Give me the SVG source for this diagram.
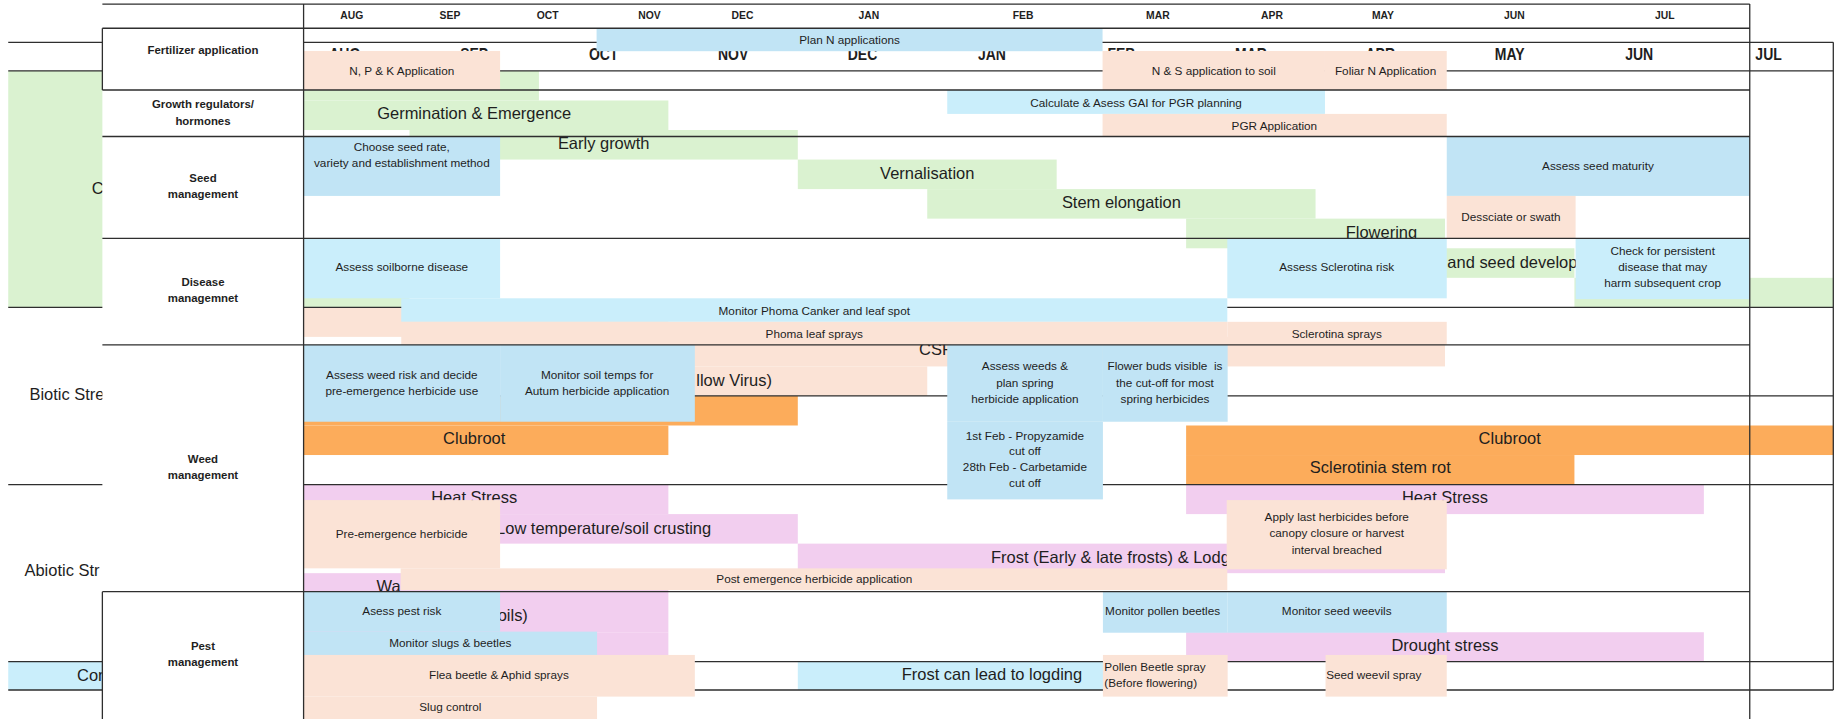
<svg xmlns="http://www.w3.org/2000/svg" width="1845" height="719" viewBox="0 0 1845 719">
<style>
text{font-family:'Liberation Sans',Arial,sans-serif;fill:#1e1e1e;dominant-baseline:central}
.s{font-size:10px;text-anchor:middle}
.sl{font-size:10px;text-anchor:start}
.b{font-size:14px;text-anchor:middle}
.bs{font-size:14px;text-anchor:start}
.be{font-size:14px;text-anchor:end}
.lab{font-size:9.7px;font-weight:bold;text-anchor:middle}
.mh{font-size:8.8px;font-weight:bold;text-anchor:middle}
.bh{font-size:14.5px;font-weight:bold;text-anchor:middle}
.pk{fill:#FBE3D6}.bl{fill:#C1E4F5}.lb{fill:#CAEEFB}.gr{fill:#DAF2D0}.or{fill:#FCAC5B}.pu{fill:#F2CEEF}.wh{fill:#fff}
.ln{stroke:#2e2e2e;stroke-width:1.1;fill:none}
</style>
<rect width="1845" height="719" fill="#fff"/>
<g transform="scale(1.1767)">
<g id="stage-table">
 <g id="bg-labels">
  <rect class="gr" x="7" y="60.3" width="231" height="200.9"/>
  <rect class="lb" x="7" y="562.3" width="231" height="24.1"/>
  <text class="bs" x="78" y="160">C</text>
  <text class="bs" x="25" y="334.9">Biotic Stre</text>
  <text class="bs" x="20.8" y="484.4">Abiotic Str</text>
  <text class="bs" x="65.5" y="573.7">Con</text>
 </g>
 <g id="bg-months" transform="scale(0.82 1)">
  <text class="bh" x="357.32" y="46">AUG</text><text class="bh" x="491.46" y="46">SEP</text><text class="bh" x="625.61" y="46">OCT</text>
  <text class="bh" x="759.76" y="46">NOV</text><text class="bh" x="893.9" y="46">DEC</text><text class="bh" x="1028.05" y="46">JAN</text>
  <text class="bh" x="1162.2" y="46">FEB</text><text class="bh" x="1296.34" y="46">MAR</text><text class="bh" x="1430.49" y="46">APR</text>
  <text class="bh" x="1564.63" y="46">MAY</text><text class="bh" x="1698.78" y="46">JUN</text><text class="bh" x="1832.93" y="46">JUL</text>
 </g>
 <g id="crop-stages">
  <rect class="gr" x="238" y="60.3" width="220" height="25.1"/>
  <rect class="gr" x="238" y="85.4" width="330" height="25.1"/>
  <rect class="gr" x="348" y="110.5" width="330" height="25.1"/>
  <rect class="gr" x="678" y="135.6" width="220" height="25.1"/>
  <rect class="gr" x="788" y="160.7" width="330" height="25.1"/>
  <rect class="gr" x="1008" y="185.8" width="220" height="25.2"/>
  <rect class="gr" x="1118" y="211" width="220" height="25.1"/>
  <rect class="gr" x="238" y="236.1" width="110" height="25.1"/>
  <rect class="gr" x="1338" y="236.1" width="220" height="25.1"/>
  <text class="b" x="403" y="96.3">Germination &amp; Emergence</text>
  <text class="b" x="513" y="121.8">Early growth</text>
  <text class="b" x="788" y="147.3">Vernalisation</text>
  <text class="b" x="953" y="171.4">Stem elongation</text>
  <text class="b" x="1174" y="196.8">Flowering</text>
  <text class="bs" x="1230" y="222.4">and seed development</text>
 </g>
 <g id="biotic">
  <rect class="pk" x="238" y="261.2" width="330" height="25.1"/>
  <rect class="pk" x="458" y="286.3" width="770" height="25.1"/>
  <rect class="pk" x="458" y="311.4" width="330" height="25.1"/>
  <rect class="or" x="238" y="336.5" width="440" height="25.1"/>
  <rect class="or" x="238" y="361.6" width="330" height="25.1"/>
  <rect class="or" x="1008" y="361.6" width="550" height="25.1"/>
  <rect class="or" x="1008" y="386.7" width="330" height="25.1"/>
  <text class="bs" x="781" y="296.7">CSF</text>
  <text class="be" x="656" y="323">llow Virus)</text>
  <text class="b" x="403" y="372.6">Clubroot</text>
  <text class="b" x="1283" y="372.6">Clubroot</text>
  <text class="b" x="1173" y="397.2">Sclerotinia stem rot</text>
 </g>
 <g id="abiotic">
  <rect class="pu" x="238" y="411.8" width="330" height="25.1"/>
  <rect class="pu" x="1008" y="411.8" width="440" height="25.1"/>
  <rect class="pu" x="348" y="436.9" width="330" height="25.1"/>
  <rect class="pu" x="678" y="462" width="550" height="25.1"/>
  <rect class="pu" x="238" y="487.1" width="330" height="50.2"/>
  <rect class="pu" x="238" y="537.3" width="330" height="25"/>
  <rect class="pu" x="1008" y="537.3" width="440" height="25"/>
  <rect class="lb" x="678" y="562.3" width="330" height="24.1"/>
  <text class="b" x="403" y="422">Heat Stress</text>
  <text class="b" x="1228" y="422">Heat Stress</text>
  <text class="b" x="513" y="449">Low temperature/soil crusting</text>
  <text class="b" x="953" y="473">Frost (Early &amp; late frosts) &amp; Lodging</text>
  <text class="bs" x="320" y="498">Wa</text>
  <text class="be" x="448.6" y="522.6">oils)</text>
  <text class="b" x="1228" y="548">Drought stress</text>
  <text class="b" x="843" y="573">Frost can lead to logding</text>
 </g>
 <path class="ln" d="M7 36H1558M7 60.3H1558M7 261.2H1558M238 336.4H1558M7 411.8H1558M7 562.3H1558M7 586.4H1558M1558 36V586.4"/>
</g>
<g id="management-table">
 <rect class="wh" x="87" y="3.5" width="171" height="609"/>
 <g id="labels">
  <text class="lab" x="172.5" y="42.5">Fertilizer application</text>
  <text class="lab" x="172.5" y="88.7">Growth regulators/</text>
  <text class="lab" x="172.5" y="102.5">hormones</text>
  <text class="lab" x="172.5" y="151.6">Seed</text>
  <text class="lab" x="172.5" y="164.9">management</text>
  <text class="lab" x="172.5" y="239.4">Disease</text>
  <text class="lab" x="172.5" y="253.6">managemnet</text>
  <text class="lab" x="172.5" y="390.4">Weed</text>
  <text class="lab" x="172.5" y="403.7">management</text>
  <text class="lab" x="172.5" y="549">Pest</text>
  <text class="lab" x="172.5" y="562.9">management</text>
 </g>
 <g id="months">
  <text class="mh" x="299" y="13">AUG</text><text class="mh" x="382.4" y="13">SEP</text><text class="mh" x="465.4" y="13">OCT</text>
  <text class="mh" x="552" y="13">NOV</text><text class="mh" x="631" y="13">DEC</text><text class="mh" x="738.4" y="13">JAN</text>
  <text class="mh" x="869.4" y="13">FEB</text><text class="mh" x="984" y="13">MAR</text><text class="mh" x="1081" y="13">APR</text>
  <text class="mh" x="1175.3" y="13">MAY</text><text class="mh" x="1287" y="13">JUN</text><text class="mh" x="1414.8" y="13">JUL</text>
 </g>
 <g id="npk"><rect class="pk" x="258" y="43.3" width="167" height="33.2"/><text class="s" x="341.5" y="59.5">N, P &amp; K Application</text></g>
 <g id="plan-n"><rect class="bl" x="507" y="24" width="430" height="19.5"/><text class="s" x="722" y="33.8">Plan N applications</text></g>
 <g id="ns-soil"><rect class="pk" x="937" y="43.3" width="189" height="33.2"/><text class="s" x="1031.5" y="59.5">N &amp; S application to soil</text></g>
 <g id="foliar-n"><rect class="pk" x="1126" y="43.3" width="103.5" height="33.2"/><text class="s" x="1177.5" y="59.5">Foliar N Application</text></g>
 <g id="gai"><rect class="lb" x="805" y="76.5" width="321" height="20.3"/><text class="s" x="965.5" y="86.8">Calculate &amp; Asess GAI for PGR planning</text></g>
 <g id="pgr"><rect class="pk" x="937" y="96.8" width="292.5" height="19.2"/><text class="s" x="1083" y="106.3">PGR Application</text></g>
 <g id="seed-rate"><rect class="bl" x="258" y="116" width="167" height="50.5"/><text class="s" x="341.5" y="124.6">Choose seed rate,</text><text class="s" x="341.5" y="138.2">variety and establishment method</text></g>
 <g id="seed-maturity"><rect class="bl" x="1229.5" y="116" width="257.5" height="50.5"/><text class="s" x="1358" y="140.8">Assess seed maturity</text></g>
 <g id="desiccate"><rect class="pk" x="1229.5" y="166.5" width="109.5" height="36"/><text class="s" x="1284" y="183.8">Dessciate or swath</text></g>
 <g id="soilborne"><rect class="lb" x="258" y="202.5" width="167" height="51"/><text class="s" x="341.5" y="226.8">Assess soilborne disease</text></g>
 <g id="phoma-monitor"><rect class="lb" x="341" y="253.5" width="702" height="20"/><text class="s" x="692" y="263.5">Monitor Phoma Canker and leaf spot</text></g>
 <g id="phoma-spray"><rect class="pk" x="341" y="273.5" width="702" height="19.5"/><text class="s" x="692" y="283">Phoma leaf sprays</text></g>
 <g id="sclero-risk"><rect class="lb" x="1043" y="202.5" width="186.5" height="51"/><text class="s" x="1136" y="226.6">Assess Sclerotina risk</text></g>
 <g id="sclero-spray"><rect class="pk" x="1043" y="273.5" width="186.5" height="19.5"/><text class="s" x="1136" y="283">Sclerotina sprays</text></g>
 <g id="persistent"><rect class="lb" x="1339" y="202.5" width="148" height="51.7"/><text class="s" x="1413" y="213">Check for persistent</text><text class="s" x="1413" y="226.7">disease that may</text><text class="s" x="1413" y="240.3">harm subsequent crop</text></g>
 <g id="weed-risk"><rect class="bl" x="258" y="293" width="167" height="65.4"/><text class="s" x="341.5" y="317.9">Assess weed risk and decide</text><text class="s" x="341.5" y="331.5">pre-emergence herbicide use</text></g>
 <g id="soil-temps"><rect class="bl" x="425" y="293" width="165.5" height="65.4"/><text class="s" x="507.5" y="317.9">Monitor soil temps for</text><text class="s" x="507.5" y="331.5">Autum herbicide application</text></g>
 <g id="spring-weeds"><rect class="bl" x="805" y="293" width="132.3" height="65.4"/><text class="s" x="871" y="311">Assess weeds &amp;</text><text class="s" x="871" y="324.7">plan spring</text><text class="s" x="871" y="338.3">herbicide application</text></g>
 <g id="cutoffs"><rect class="bl" x="805" y="358.4" width="132.3" height="66"/><text class="s" x="871" y="369.7">1st Feb - Propyzamide</text><text class="s" x="871" y="383.2">cut off</text><text class="s" x="871" y="396.7">28th Feb - Carbetamide</text><text class="s" x="871" y="410.2">cut off</text></g>
 <g id="flower-buds"><rect class="bl" x="937.3" y="293" width="106" height="65.4"/><text class="s" x="990" y="311" xml:space="preserve" style="white-space:pre">Flower buds visible  is</text><text class="s" x="990" y="324.7">the cut-off for most</text><text class="s" x="990" y="338.3">spring herbicides</text></g>
 <g id="pre-em"><rect class="pk" x="258" y="425" width="167" height="58"/><text class="s" x="341.3" y="453.2">Pre-emergence herbicide</text></g>
 <g id="post-em"><rect class="pk" x="340.5" y="483" width="702.5" height="18.5"/><text class="s" x="692" y="491.8">Post emergence herbicide application</text></g>
 <g id="last-herb"><rect class="pk" x="1042.5" y="425" width="187" height="58.8"/><text class="s" x="1136" y="439">Apply last herbicides before</text><text class="s" x="1136" y="452.7">canopy closure or harvest</text><text class="s" x="1136" y="466.6">interval breached</text></g>
 <g id="pest-risk"><rect class="bl" x="258" y="502.8" width="167" height="34"/><text class="s" x="341.5" y="519">Asess pest risk</text></g>
 <g id="slugs-monitor"><rect class="bl" x="258" y="536.8" width="249.4" height="19.8"/><text class="s" x="382.7" y="546.4">Monitor slugs &amp; beetles</text></g>
 <g id="flea-spray"><rect class="pk" x="258" y="556.6" width="332.5" height="35.4"/><text class="s" x="424" y="573.5">Flea beetle &amp; Aphid sprays</text></g>
 <g id="slug-control"><rect class="pk" x="258" y="592" width="249.4" height="20"/><text class="s" x="382.7" y="600.8">Slug control</text></g>
 <g id="pollen-monitor"><rect class="bl" x="937.3" y="502.8" width="106" height="34.9"/><text class="s" x="988" y="519">Monitor pollen beetles</text></g>
 <g id="weevil-monitor"><rect class="bl" x="1043.3" y="502.8" width="186.2" height="34.9"/><text class="s" x="1136" y="519">Monitor seed weevils</text></g>
 <g id="pollen-spray"><rect class="pk" x="937.3" y="556.6" width="106" height="35.4"/><text class="sl" x="938.5" y="566.6">Pollen Beetle spray</text><text class="sl" x="938.5" y="580.1">(Before flowering)</text></g>
 <g id="weevil-spray"><rect class="pk" x="1126.5" y="556.6" width="103" height="35.4"/><text class="sl" x="1127" y="572.8">Seed weevil spray</text></g>
 <path class="ln" d="M87 3.5H1487M87 24H1487M87 76.5H1487M87 116H1487M87 202.5H1487M87 293H1487M87 502.8H1487M87 24V76.5M87 502.8V612M258 3.5V612M1487 3.5V612"/>
</g>
<g id="connectors"/>
</g>
</svg>
